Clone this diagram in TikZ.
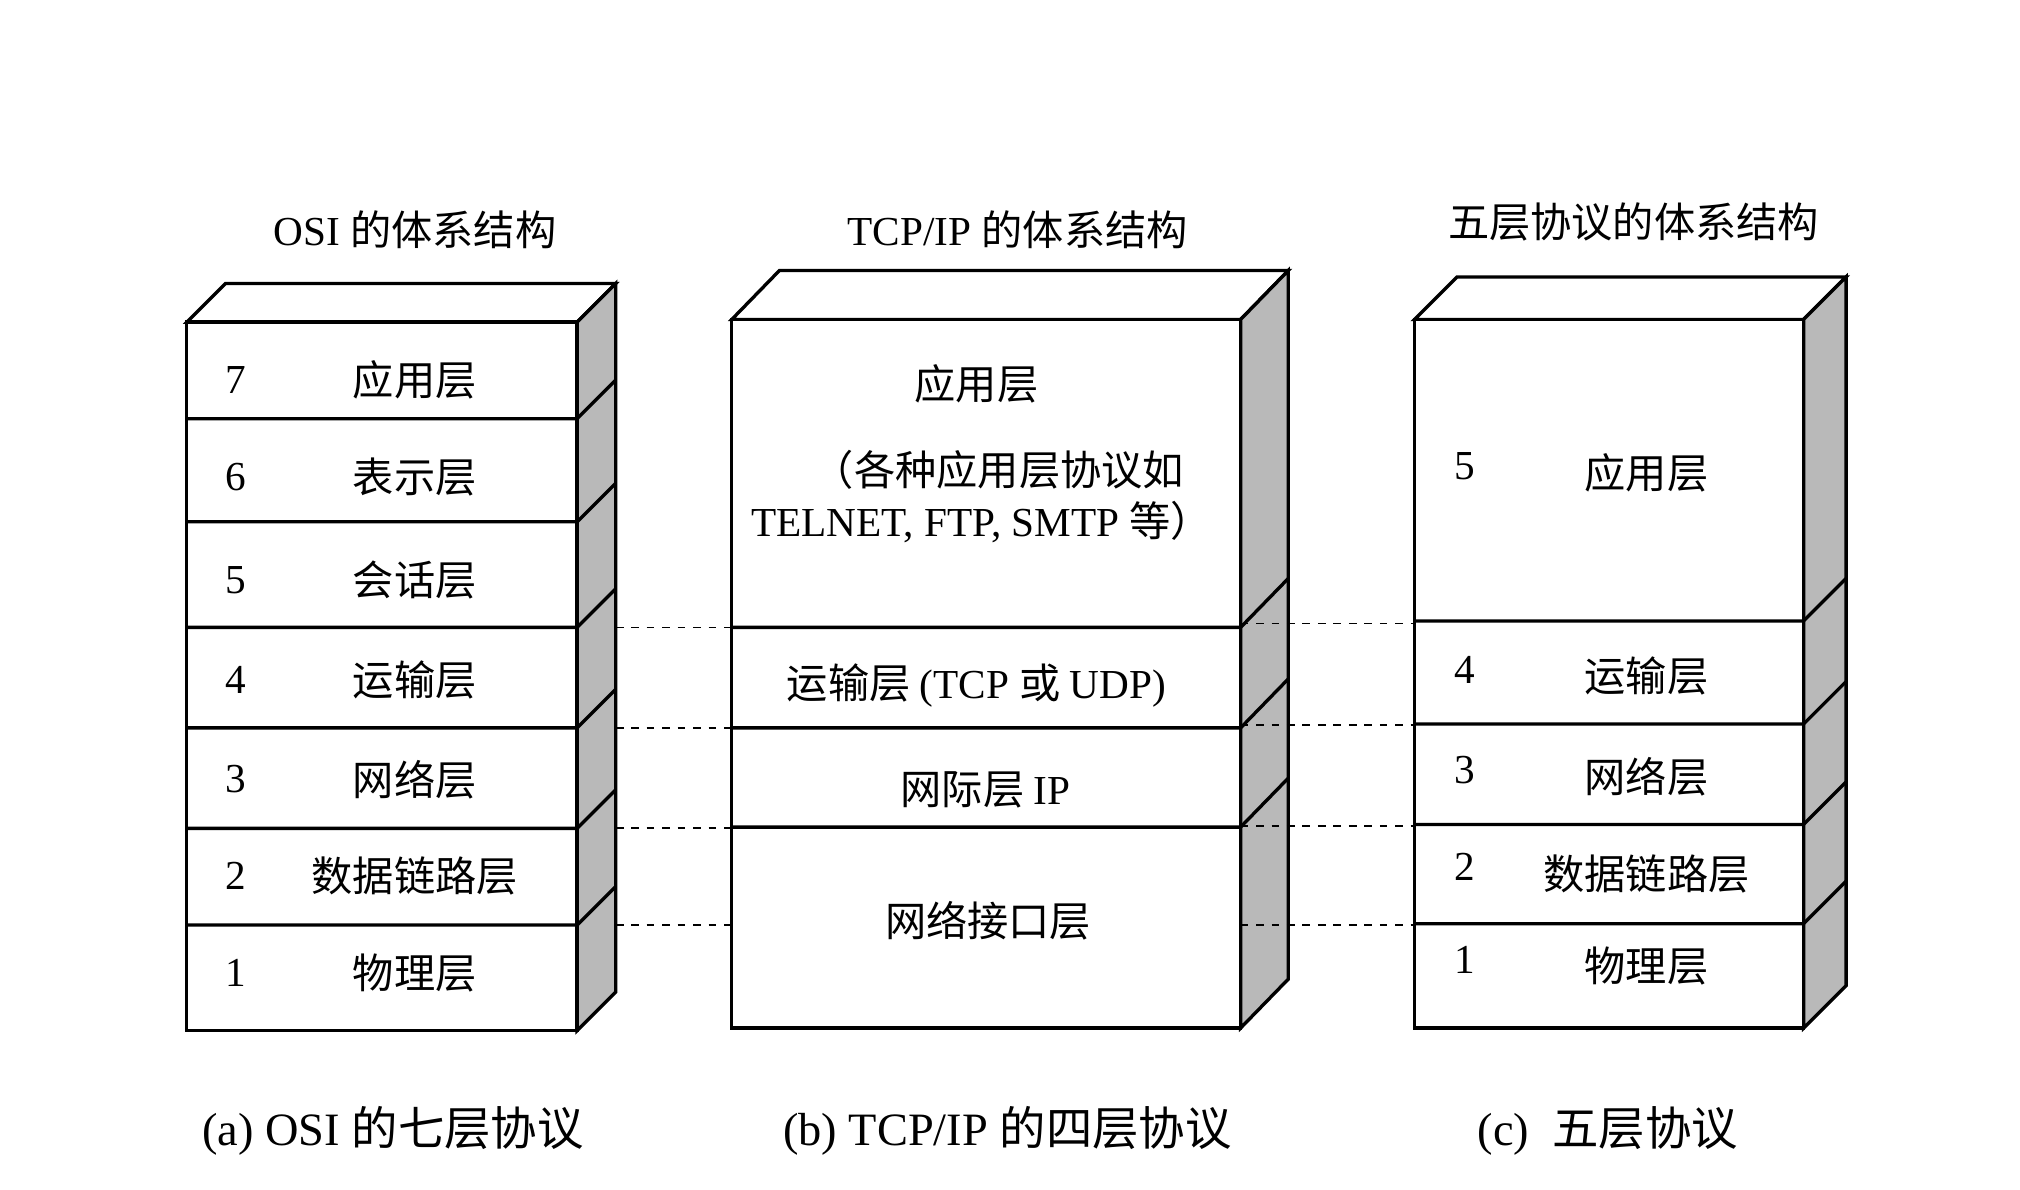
\documentclass[tikz,border=0pt]{standalone}
\usepackage{fontspec}
\setmainfont{Liberation Serif}
\newfontfamily\cjk{Noto Sans CJK SC}
\begin{document}
\begin{tikzpicture}[x=0.5pt,y=-0.5pt,
  txt/.style={font=\fontsize{16}{19}\selectfont\cjk,inner sep=0pt},
  num/.style={font=\fontsize{16}{19}\selectfont,inner sep=0pt},
  captext/.style={font=\fontsize{18}{21}\selectfont\cjk,inner sep=0pt},
  box/.style={draw=black,line width=1.3pt,fill=white},
  side/.style={draw=black,line width=1.3pt,fill=gray!55},
  dline/.style={dashed,line width=0.7pt}]
\useasboundingbox (0,0) rectangle (1568,923);
% box a
\draw[box] (145,250) -- (175,220) -- (478,220) -- (448,250) -- cycle;
\draw[side] (448,250) -- (478,220) -- (478,770) -- (448,800) -- cycle;
\draw[box] (145,250) rectangle (448,800);
\foreach \y in {325,405,487,565,643,718}{\draw[line width=1.3pt] (145,\y) -- (448,\y) -- (478,\y-30);}
\foreach \n/\t/\y in {7/应用层/295,6/表示层/370,5/会话层/450,4/运输层/528,3/网络层/605,2/数据链路层/680,1/物理层/755}{
  \node[num] (an\n) at (183,\y) {\n};
  \node[txt] (at\n) at (322,\y) {\t};}
% box b
\draw[box] (568,248) -- (605,210) -- (1000,210) -- (963,248) -- cycle;
\draw[side] (963,248) -- (1000,210) -- (1000,760) -- (963,798) -- cycle;
\draw[box] (568,248) rectangle (963,798);
\foreach \y in {487,565,642}{\draw[line width=1.3pt] (568,\y) -- (963,\y) -- (1000,\y-38);}
\node[txt] (b1) at (758,298) {应用层};
\node[txt] (b2) at (775,365) {（各种应用层协议如};
\node[txt] (b3) at (762,405) {\fontspec{Liberation Serif}TELNET, FTP, SMTP \cjk 等）};
\node[txt] (b4) at (758,532) {运输层 \fontspec{Liberation Serif}(TCP \cjk 或 \fontspec{Liberation Serif}UDP)};
\node[txt] (b5) at (765,613) {网际层 \fontspec{Liberation Serif}IP};
\node[txt] (b6) at (767,715) {网络接口层};
% box c
\draw[box] (1098,248) -- (1131,215) -- (1433,215) -- (1400,248) -- cycle;
\draw[side] (1400,248) -- (1433,215) -- (1433,765) -- (1400,798) -- cycle;
\draw[box] (1098,248) rectangle (1400,798);
\foreach \y in {482,562,640,717}{\draw[line width=1.3pt] (1098,\y) -- (1400,\y) -- (1433,\y-33);}
\foreach \n/\t/\y in {5/应用层/367,4/运输层/525,3/网络层/603,2/数据链路层/678,1/物理层/750}{
  \node[num] (cn\n) at (1137,\y-5) {\n};
  \node[txt] (ct\n) at (1278,\y) {\t};}
% dashed
\foreach \y/\z [count=\i] in {487/484,565/563,643/641,718/718}{
  \coordinate (l\i) at (478,\y); \coordinate (m\i) at (568,\y);
  \coordinate (n\i) at (963,\z); \coordinate (r\i) at (1098,\z);
  \draw[dline] (l\i) -- (m\i); \draw[dline] (n\i) -- (r\i);}
% titles
\node[txt] (t1) at (322,178) {\fontspec{Liberation Serif}OSI \cjk 的体系结构};
\node[txt] (t2) at (790,178) {\fontspec{Liberation Serif}TCP/IP \cjk 的体系结构};
\node[txt] (t3) at (1268,172) {五层协议的体系结构};
\node[captext] (c1) at (305,878) {\fontspec{Liberation Serif}(a) OSI \cjk 的七层协议};
\node[captext] (c2) at (782,878) {\fontspec{Liberation Serif}(b) TCP/IP \cjk 的四层协议};
\node[captext] (c3) at (1248,878) {\fontspec{Liberation Serif}(c)\ \ \cjk 五层协议};
\end{tikzpicture}
\end{document}
